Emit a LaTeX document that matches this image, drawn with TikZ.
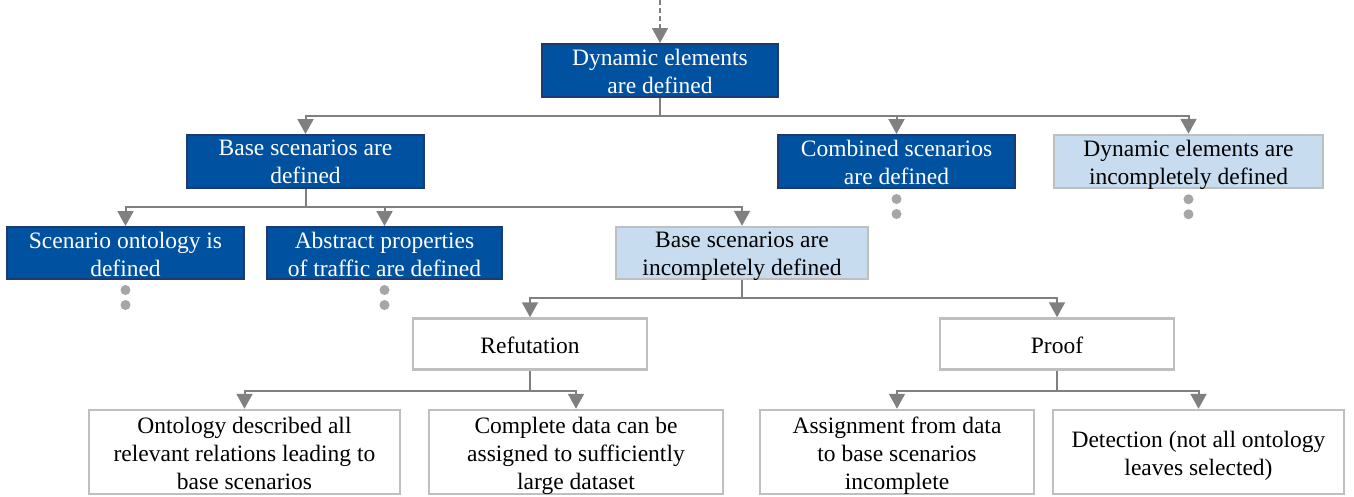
\documentclass[tikz,border=0pt]{standalone}
\usepackage{fontspec}
\setmainfont{Liberation Serif}
\newfontfamily\timesfont{Liberation Serif}
\usetikzlibrary{arrows.meta}
\definecolor{dkblue}{HTML}{0052A0}
\definecolor{navy}{HTML}{1F3A6E}
\definecolor{ltblue}{HTML}{C8DCF0}
\definecolor{bord}{HTML}{BFBFBF}
\definecolor{linec}{HTML}{808080}
\definecolor{dotc}{HTML}{A6A6A6}
\begin{document}
\begin{tikzpicture}[x=1pt,y=-1pt,
  font=\timesfont\fontsize{23.5}{28}\selectfont,
  box/.style={rectangle, inner sep=0pt},
  dark/.style={box, fill=dkblue, draw=navy, line width=2pt},
  light/.style={box, fill=ltblue, draw=bord, line width=2.5pt},
  plain/.style={box, fill=white, draw=bord, line width=2.5pt},
  txt/.style={align=center, inner sep=0pt, anchor=north},
  wtxt/.style={txt, text=white},
  conn/.style={draw=linec, line width=2pt},
  arr/.style={conn, -{Triangle[width=16pt,length=15pt]}},
  dotmark/.style={fill=dotc}]
\useasboundingbox (0,0) rectangle (1354,496);

% boxes
\node[dark, minimum width=236pt, minimum height=53pt] (A) at (660,70.5) {};
\node[dark, minimum width=237pt, minimum height=53pt] (B) at (305.5,161.5) {};
\node[dark, minimum width=237pt, minimum height=53pt] (C) at (896.5,161.5) {};
\node[light, minimum width=269pt, minimum height=53pt] (D) at (1188.5,161.5) {};
\node[dark, minimum width=237pt, minimum height=52pt] (E) at (125.5,253) {};
\node[dark, minimum width=235pt, minimum height=52pt] (F) at (384.5,253) {};
\node[light, minimum width=252pt, minimum height=52pt] (G) at (742,253) {};
\node[plain, minimum width=234pt, minimum height=51pt] (H) at (530,344) {};
\node[plain, minimum width=234pt, minimum height=51pt] (I) at (1057,344) {};
\node[plain, minimum width=311pt, minimum height=84pt] (J) at (244.5,452) {};
\node[plain, minimum width=294pt, minimum height=84pt] (K) at (576,452) {};
\node[plain, minimum width=274pt, minimum height=84pt] (L) at (897,452) {};
\node[plain, minimum width=291pt, minimum height=84pt] (M) at (1198.5,452) {};

% texts
\node[wtxt] (At) at ([yshift=21.3pt]A.center) {Dynamic elements\\are defined};
\node[wtxt] (Bt) at ([yshift=21.3pt]B.center) {Base scenarios are\\defined};
\node[wtxt] (Ct) at ([yshift=21.3pt]C.center) {Combined scenarios\\are defined};
\node[txt]  (Dt) at ([yshift=21.3pt]D.center) {Dynamic elements are\\incompletely defined};
\node[wtxt] (Et) at ([yshift=21.3pt]E.center) {Scenario ontology is\\defined};
\node[wtxt] (Ft) at ([yshift=21.3pt]F.center) {Abstract properties\\of traffic are defined};
\node[txt]  (Gt) at ([yshift=21.3pt]G.center) {Base scenarios are\\incompletely defined};
\node[txt]  (Ht) at ([yshift=7.6pt]H.center) {Refutation};
\node[txt]  (It) at ([yshift=7.6pt]I.center) {Proof};
\node[txt]  (Jt) at ([yshift=34.8pt]J.center) {Ontology described all\\relevant relations leading to\\base scenarios};
\node[txt]  (Kt) at ([yshift=34.8pt]K.center) {Complete data can be\\assigned to sufficiently\\large dataset};
\node[txt]  (Lt) at ([yshift=34.8pt]L.center) {Assignment from data\\to base scenarios\\incomplete};
\node[txt]  (Mt) at ([yshift=21.3pt]M.center) {Detection (not all ontology\\leaves selected)};

% incoming dashed arrow
\coordinate (top) at (660,0);
\draw[arr, line width=1.5pt, dash pattern=on 5pt off 3pt] (top) -- (A.north);

% connectors
\draw[arr] (A.south) -- ++(0,18) -| (B.north);
\draw[arr] (A.south) -- ++(0,18) -| (C.north);
\draw[arr] (A.south) -- ++(0,18) -| (D.north);

\draw[arr] (B.south) -- ++(0,18) -| (E.north);
\draw[arr] (B.south) -- ++(0,18) -| (F.north);
\draw[arr] (B.south) -- ++(0,18) -| (G.north);

\draw[arr] (G.south) -- ++(0,18) -| (H.north);
\draw[arr] (G.south) -- ++(0,18) -| (I.north);

\draw[arr] (H.south) -- ++(0,20) -| (J.north);
\draw[arr] (H.south) -- ++(0,20) -| (K.north);
\draw[arr] (I.south) -- ++(0,20) -| (L.north);
\draw[arr] (I.south) -- ++(0,20) -| (M.north);

% continuation dots
\foreach \n in {C,D,E,F}{
  \fill[dotmark] (\n.south) ++(0,10) circle[radius=5pt];
  \fill[dotmark] (\n.south) ++(0,25) circle[radius=5pt];
}
\end{tikzpicture}
\end{document}
